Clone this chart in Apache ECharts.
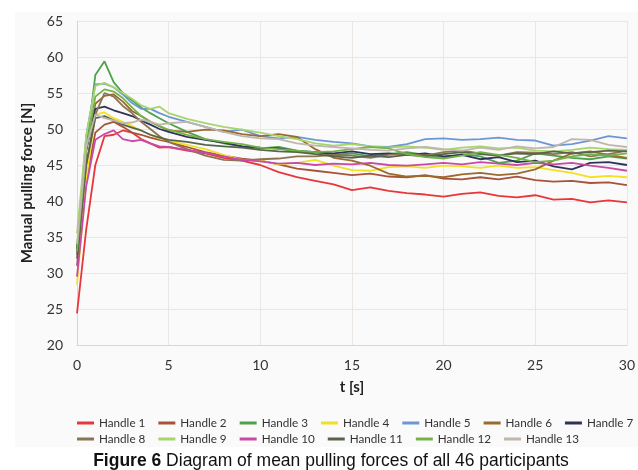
<!DOCTYPE html>
<html>
<head>
<meta charset="utf-8">
<script src="https://cdn.jsdelivr.net/npm/echarts@6/dist/echarts.min.js"></script>
<style>
  html, body { margin: 0; padding: 0; background: #fff; }
  #main { width: 638px; height: 470px; }
</style>
</head>
<body>
<div id="main"></div>
<script>
// time axis [s]
const times = [0, 0.5, 1, 1.5, 2, 2.5, 3, 3.5, 4, 4.5, 5, 6, 7, 8, 9, 10, 11, 12, 13, 14, 15,
  16, 17, 18, 19, 20, 21, 22, 23, 24, 25, 26, 27, 28, 29, 30];

const handle1 = [24.4, 36.0, 45.0, 49.0, 49.2, 49.8, 49.5, 48.6, 48.0, 47.4, 47.5, 47.0, 46.6, 46.0, 45.6, 45.0, 44.0, 43.3, 42.8, 42.3, 41.5,
  41.9, 41.4, 41.1, 40.9, 40.6, 41.0, 41.2, 40.7, 40.5, 40.8, 40.2, 40.3, 39.8, 40.1, 39.8];
const handle2 = [31.0, 43.0, 49.5, 50.6, 51.0, 50.3, 49.5, 49.2, 48.8, 48.5, 48.2, 47.5, 46.8, 46.3, 45.9, 45.6, 45.1, 44.5, 44.2, 43.9, 43.6,
  43.8, 43.4, 43.3, 43.6, 43.1, 43.0, 43.3, 43.0, 43.4, 42.9, 42.7, 42.8, 42.5, 42.6, 42.2];
const handle3 = [33.5, 47.0, 57.5, 59.4, 56.5, 55.0, 54.0, 53.0, 52.2, 51.5, 50.8, 49.6, 48.6, 48.0, 47.6, 47.3, 47.5, 47.0, 46.8, 46.4, 46.6,
  46.2, 46.5, 46.8, 46.4, 46.0, 46.5, 46.2, 45.3, 45.6, 46.6, 46.3, 46.0, 45.8, 46.2, 45.9];
const handle4 = [28.4, 43.0, 52.0, 52.3, 51.5, 51.0, 50.4, 49.8, 49.2, 48.7, 48.4, 47.8, 47.2, 46.4, 45.7, 45.6, 45.1, 45.3, 45.7, 44.9, 44.3,
  44.2, 44.7, 44.8, 44.6, 44.9, 44.8, 44.6, 44.9, 44.6, 44.7, 44.3, 43.9, 43.3, 43.5, 43.3];
const handle5 = [33.0, 49.0, 56.2, 56.3, 55.8, 54.8, 53.6, 52.8, 52.8, 52.2, 51.7, 51.0, 50.3, 49.6, 49.9, 49.0, 48.7, 48.9, 48.5, 48.2, 48.0,
  47.6, 47.5, 47.9, 48.6, 48.7, 48.5, 48.6, 48.8, 48.5, 48.4, 47.7, 47.9, 48.4, 49.0, 48.7];
const handle6 = [33.0, 47.0, 53.5, 54.6, 54.8, 53.8, 52.5, 51.8, 51.0, 50.4, 49.8, 49.6, 49.9, 49.8, 49.3, 49.0, 49.3, 48.9, 47.2, 46.0, 45.6,
  44.9, 43.8, 43.4, 43.5, 43.3, 43.7, 43.9, 43.6, 43.8, 44.4, 45.6, 46.6, 46.9, 46.4, 46.0];
const handle7 = [33.0, 47.0, 52.8, 53.1, 52.6, 52.2, 51.8, 51.2, 50.6, 50.0, 49.6, 48.9, 48.5, 48.1, 47.6, 47.4, 47.3, 46.9, 46.8, 46.6, 46.9,
  46.5, 46.6, 46.4, 46.6, 46.2, 46.4, 45.8, 46.1, 45.4, 45.6, 44.8, 44.4, 45.3, 45.4, 45.0];
const handle8 = [32.5, 45.0, 52.0, 55.0, 54.5, 53.2, 52.2, 51.0, 50.0, 49.0, 48.2, 47.2, 46.3, 45.7, 45.6, 45.8, 45.9, 46.2, 46.2, 46.4, 46.3,
  46.0, 46.4, 46.6, 46.3, 46.8, 47.0, 46.6, 46.3, 46.8, 46.7, 46.5, 46.8, 46.2, 46.5, 47.0];
const handle9 = [35.5, 49.0, 56.0, 56.4, 55.8, 55.0, 54.2, 53.3, 52.8, 53.1, 52.2, 51.4, 50.8, 50.3, 49.9, 49.5, 49.0, 48.6, 48.0, 47.7, 47.9,
  47.6, 47.4, 47.6, 47.4, 47.1, 47.4, 47.6, 47.3, 47.4, 47.0, 46.9, 47.1, 47.4, 47.2, 47.1];
const handle10 = [29.5, 42.0, 48.5, 49.3, 49.8, 48.6, 48.3, 48.5, 48.0, 47.6, 47.5, 47.1, 46.7, 46.2, 45.7, 45.5, 45.2, 45.3, 45.0, 45.2, 45.1,
  45.3, 45.0, 44.9, 45.1, 45.3, 45.1, 45.4, 45.2, 45.0, 45.3, 45.1, 45.3, 44.9, 44.6, 44.2];
const handle11 = [32.0, 45.0, 51.5, 51.8, 51.2, 50.6, 50.2, 49.8, 49.2, 48.8, 48.5, 48.2, 47.8, 47.6, 47.4, 47.1, 46.9, 46.8, 46.5, 46.2, 46.0,
  46.3, 46.1, 46.4, 46.2, 46.5, 46.8, 46.5, 46.3, 46.6, 46.5, 46.9, 46.6, 46.8, 47.0, 46.9];
const handle12 = [33.0, 47.0, 54.5, 55.5, 55.2, 54.3, 53.0, 51.8, 51.0, 50.4, 49.9, 49.2, 48.6, 48.2, 47.9, 47.4, 47.2, 47.0, 46.8, 46.9, 47.2,
  47.5, 47.3, 46.5, 46.1, 45.9, 46.3, 46.8, 46.4, 46.0, 45.4, 45.6, 46.2, 46.5, 46.3, 46.6];
const handle13 = [34.0, 47.5, 52.0, 51.5, 51.2, 50.8, 50.9, 51.3, 51.0, 50.6, 50.8, 51.0, 50.3, 49.6, 49.0, 48.7, 48.6, 48.0, 47.7, 47.5, 47.3,
  47.1, 47.0, 47.3, 47.5, 47.2, 47.0, 47.4, 47.1, 47.6, 47.3, 47.5, 48.6, 48.5, 47.8, 47.5];

const names = ['Handle 1', 'Handle 2', 'Handle 3', 'Handle 4', 'Handle 5', 'Handle 6', 'Handle 7',
  'Handle 8', 'Handle 9', 'Handle 10', 'Handle 11', 'Handle 12', 'Handle 13'];
const values = [handle1, handle2, handle3, handle4, handle5, handle6, handle7,
  handle8, handle9, handle10, handle11, handle12, handle13];
const colors = ['#e8373a', '#a6533a', '#4ea24b', '#f1e126', '#6c97d3', '#9a6a2e', '#2e3457',
  '#8b7454', '#a8d46e', '#c84aa6', '#57644a', '#76b24a', '#bfb6ae'];

const chart = echarts.init(document.getElementById('main'));

const legendBase = {
  left: 72,
  width: 580,
  itemWidth: 17,
  itemHeight: 3,
  itemGap: 13,
  icon: 'rect',
  textStyle: { fontFamily: 'Lato', fontSize: 11.7, color: '#333' }
};

const option = {
  animation: false,
  color: colors,
  graphic: [{
    type: 'rect',
    z: -10,
    shape: { x: 15, y: 12, width: 623, height: 435 },
    style: { fill: '#fafafa' }
  }],
  title: {
    left: 326,
    textAlign: 'center',
    top: 447,
    text: '{b|Figure 6} Diagram of mean pulling forces of all 46 participants',
    textStyle: {
      fontFamily: 'Liberation Sans',
      fontSize: 17.5,
      fontWeight: 'normal',
      color: '#111',
      rich: {
        b: { fontFamily: 'Liberation Sans', fontSize: 17.5, fontWeight: 'bold', color: '#111' }
      }
    }
  },
  legend: [
    Object.assign({}, legendBase, { top: 412, data: names.slice(0, 7) }),
    Object.assign({}, legendBase, { top: 428, data: names.slice(7) })
  ],
  grid: { left: 77, right: 4, top: 21, bottom: 125 },
  xAxis: {
    type: 'value',
    min: 0,
    max: 30,
    interval: 5,
    name: 't [s]',
    nameLocation: 'middle',
    nameGap: 35,
    nameTextStyle: { fontFamily: 'Lato', fontSize: 15, fontWeight: 'bold', color: '#222' },
    axisLine: { lineStyle: { color: '#ddd6d0' } },
    axisTick: { show: false },
    axisLabel: { margin: 13, fontFamily: 'Lato', fontSize: 14, color: '#333' },
    splitLine: { show: true, lineStyle: { color: '#ebe6e1' } }
  },
  yAxis: {
    type: 'value',
    min: 20,
    max: 65,
    interval: 5,
    name: 'Manual pulling force [N]',
    nameLocation: 'middle',
    nameGap: 42,
    nameTextStyle: { fontFamily: 'Lato', fontSize: 15, fontWeight: 'bold', color: '#222' },
    axisLine: { show: true, lineStyle: { color: '#ddd6d0' } },
    axisTick: { show: false },
    axisLabel: { margin: 14, fontFamily: 'Lato', fontSize: 14, color: '#333' },
    splitLine: { show: true, lineStyle: { color: '#ebe6e1' } }
  },
  series: names.map((n, i) => ({
    name: n,
    type: 'line',
    symbol: 'none',
    smooth: false,
    lineStyle: { width: 1.8, color: colors[i] },
    itemStyle: { color: colors[i] },
    data: times.map((t, k) => [t, values[i][k]])
  }))
};

chart.setOption(option);
</script>
</body>
</html>
